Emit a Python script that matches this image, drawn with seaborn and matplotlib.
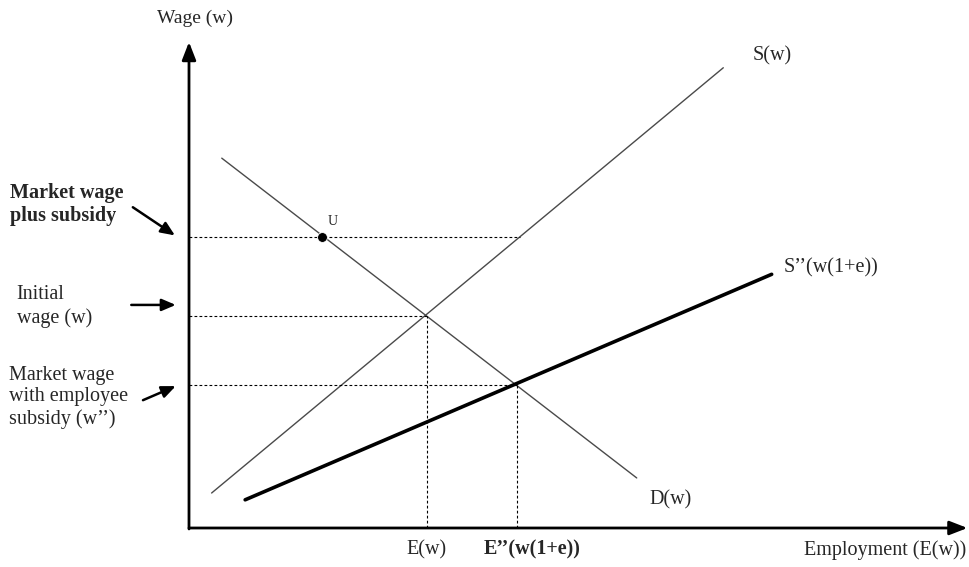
import matplotlib
matplotlib.use("Agg")
import matplotlib.pyplot as plt
import seaborn as sns
import pandas as pd

# --- data (E on x, w on y) ---
supply_E = [0.29, 6.85]
supply_w = [0.72, 9.47]
demand_E = [0.42, 5.74]
demand_w = [7.61, 1.03]
subsidy_supply_E = [0.72, 7.47]
subsidy_supply_w = [0.58, 5.22]

E_initial, w_initial = 3.05, 4.36
E_subsidy, w_subsidy = 4.21, 2.95
U_E, w_plus_subsidy = 1.71, 5.98
E_supply_at_plus = 4.24

sns.set_theme(style="white")
plt.rcParams['font.family'] = ['Liberation Serif', 'DejaVu Serif']

fig = plt.figure(figsize=(9.69, 5.67), dpi=100)
ax = fig.add_axes([0, 0, 1, 1])
ax.set_xlim(-189 / 78, 780 / 78)
ax.set_ylim(-39 / 48.6, 528 / 48.6)
ax.axis('off')

curves = pd.concat([
    pd.DataFrame({'E': supply_E, 'w': supply_w, 'curve': 'S'}),
    pd.DataFrame({'E': demand_E, 'w': demand_w, 'curve': 'D'}),
])
sns.lineplot(data=curves, x='E', y='w', units='curve', estimator=None,
             color='#4a4a4a', linewidth=1.0, ax=ax, sort=False)
sns.lineplot(x=subsidy_supply_E, y=subsidy_supply_w, color='black',
             linewidth=2.6, ax=ax, sort=False)

# dashed guide lines
dash = dict(color='black', linewidth=0.8, linestyle=(0, (2.5, 2)))
ax.plot([0, E_initial], [w_initial, w_initial], **dash)
ax.plot([E_initial, E_initial], [0, w_initial], **dash)
ax.plot([0, E_subsidy], [w_subsidy, w_subsidy], **dash)
ax.plot([E_subsidy, E_subsidy], [0, w_subsidy], **dash)
ax.plot([0, E_supply_at_plus], [w_plus_subsidy, w_plus_subsidy], **dash)

sns.scatterplot(x=[U_E], y=[w_plus_subsidy], color='black', s=50, ax=ax, zorder=5)

# axes with arrow heads
arrow = dict(arrowstyle='-|>,head_length=0.9,head_width=0.35', color='black',
             linewidth=2.0, shrinkA=0, shrinkB=0)
ax.annotate('', xy=(9.98, 0), xytext=(0, 0), arrowprops=arrow)
ax.annotate('', xy=(0, 10.0), xytext=(0, -0.02), arrowprops=arrow)

fs = 14.5
ax.text(0.08, 10.49, 'Wage (w)', ha='center', va='center', fontsize=14)
ax.text(7.23, 9.72, 'S(w)', ha='left', va='center', fontsize=fs)
ax.text(7.62, 5.35, 'S\u2019\u2019(w(1+e))', ha='left', va='center', fontsize=fs)
ax.text(5.90, 0.58, 'D(w)', ha='left', va='center', fontsize=fs)
ax.text(U_E + 0.13, w_plus_subsidy + 0.32, 'U', ha='center', va='center', fontsize=10)
ax.text(E_initial, -0.45, 'E(w)', ha='center', va='center', fontsize=fs)
ax.text(3.78, -0.45, 'E\u2019\u2019(w(1+e))', ha='left', va='center', fontsize=fs,
        fontweight='bold')
ax.text(9.97, -0.45, 'Employment (E(w))', ha='right', va='center', fontsize=fs)

ax.text(-2.30, 6.65, 'Market wage\nplus subsidy', ha='left', va='center',
        fontsize=fs, fontweight='bold', linespacing=1.2)
ax.text(-2.21, 4.55, 'Initial\nwage (w)', ha='left', va='center', fontsize=fs,
        linespacing=1.3)
ax.text(-2.31, 2.69, 'Market wage\nwith employee\nsubsidy (w\u2019\u2019)', ha='left',
        va='center', fontsize=fs, linespacing=1.2)

pointer = dict(arrowstyle='-|>,head_length=0.7,head_width=0.3', color='black',
               linewidth=1.8, shrinkA=0, shrinkB=0)
ax.annotate('', xy=(-0.18, 6.02), xytext=(-0.72, 6.60), arrowprops=pointer)
ax.annotate('', xy=(-0.17, 4.59), xytext=(-0.74, 4.59), arrowprops=pointer)
ax.annotate('', xy=(-0.17, 2.92), xytext=(-0.59, 2.63), arrowprops=pointer)

fig.savefig('out.png', dpi=100)
